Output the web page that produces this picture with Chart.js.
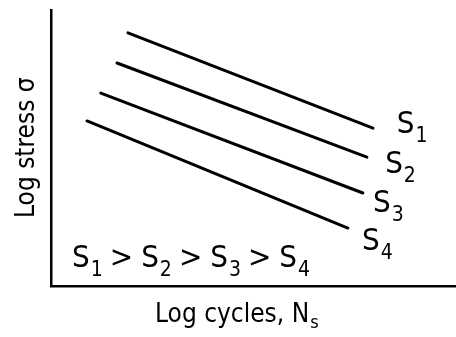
<!DOCTYPE html>
<html>
<head>
<meta charset="utf-8">
<script src="https://cdn.jsdelivr.net/npm/chart.js@4"></script>
<style>
  html, body { margin: 0; padding: 0; background: #fff; }
  #wrap { width: 456px; height: 337px; }
</style>
</head>
<body>
<div id="wrap"><canvas id="snChart"></canvas></div>
<script>
// S-N lines, log cycles (x) vs log stress (y), arbitrary log units 0..10
const seriesNames = ['S1', 'S2', 'S3', 'S4'];
const xStart = [1.90, 1.63, 1.23, 0.89];
const yStart = [9.17, 8.08, 6.99, 5.98];
const xEnd = [7.95, 7.80, 7.70, 7.33];
const yEnd = [5.72, 4.67, 3.37, 2.10];
// where the S labels sit (left edge / baseline)
const labelX = [8.54, 8.25, 7.95, 7.68];
const labelY = [5.54, 4.09, 2.68, 1.30];

const FONT = '"DejaVu Sans Condensed", "DejaVu Sans", sans-serif';
const INK = '#000';

// draws "S" with a subscript number
function drawSub(ctx, main, sub, x, y, size) {
  ctx.font = size + 'px ' + FONT;
  ctx.fillText(main, x, y);
  const w = ctx.measureText(main).width;
  ctx.font = Math.round(size * 0.68) + 'px ' + FONT;
  ctx.fillText(sub, x + w + 1, y + size * 0.28);
  return w + 1 + ctx.measureText(sub).width;
}

const textPlugin = {
  id: 'snText',
  afterDraw(chart) {
    const ctx = chart.ctx;
    const xs = chart.scales.x, ys = chart.scales.y;
    ctx.save();
    ctx.fillStyle = INK;
    ctx.textBaseline = 'alphabetic';
    ctx.textAlign = 'left';

    // curve labels
    seriesNames.forEach((n, i) => {
      drawSub(ctx, 'S', n.slice(1), xs.getPixelForValue(labelX[i]), ys.getPixelForValue(labelY[i]), 31);
    });

    // S1 > S2 > S3 > S4
    let x = xs.getPixelForValue(0.52);
    const y = ys.getPixelForValue(0.69);
    seriesNames.forEach((n, i) => {
      x += drawSub(ctx, 'S', n.slice(1), x, y, 31);
      if (i < seriesNames.length - 1) {
        ctx.font = '31px ' + FONT;
        ctx.fillText('>', x + 7, y);
        x += ctx.measureText('>').width + 15;
      }
    });

    // x axis title
    ctx.font = '26px ' + FONT;
    const t = 'Log cycles, N';
    const tx = 155, ty = 322;
    ctx.fillText(t, tx, ty);
    const tw = ctx.measureText(t).width;
    ctx.font = '18px ' + FONT;
    ctx.fillText('s', tx + tw + 1, ty + 6);

    // y axis title
    ctx.translate(34, 218);
    ctx.rotate(-Math.PI / 2);
    ctx.font = '26px ' + FONT;
    ctx.fillText('Log stress σ', 0, 0);
    ctx.restore();
  }
};

const datasets = seriesNames.map((n, i) => ({
  label: n,
  data: [{ x: xStart[i], y: yStart[i] }, { x: xEnd[i], y: yEnd[i] }],
  showLine: true,
  borderColor: INK,
  borderWidth: 3,
  pointRadius: 0,
  borderCapStyle: 'round'
}));

new Chart(document.getElementById('snChart'), {
  type: 'scatter',
  data: { datasets },
  options: {
    responsive: true,
    maintainAspectRatio: false,
    animation: false,
    layout: { padding: { left: 51, top: 10, right: 0, bottom: 51 } },
    plugins: { legend: { display: false }, tooltip: { enabled: false } },
    scales: {
      x: {
        min: 0, max: 10,
        ticks: { display: false },
        grid: { display: false, drawTicks: false },
        border: { display: true, color: INK, width: 2.5 }
      },
      y: {
        min: 0, max: 10,
        ticks: { display: false },
        grid: { display: false, drawTicks: false },
        border: { display: true, color: INK, width: 2.5 }
      }
    }
  },
  plugins: [textPlugin]
});
</script>
</body>
</html>
